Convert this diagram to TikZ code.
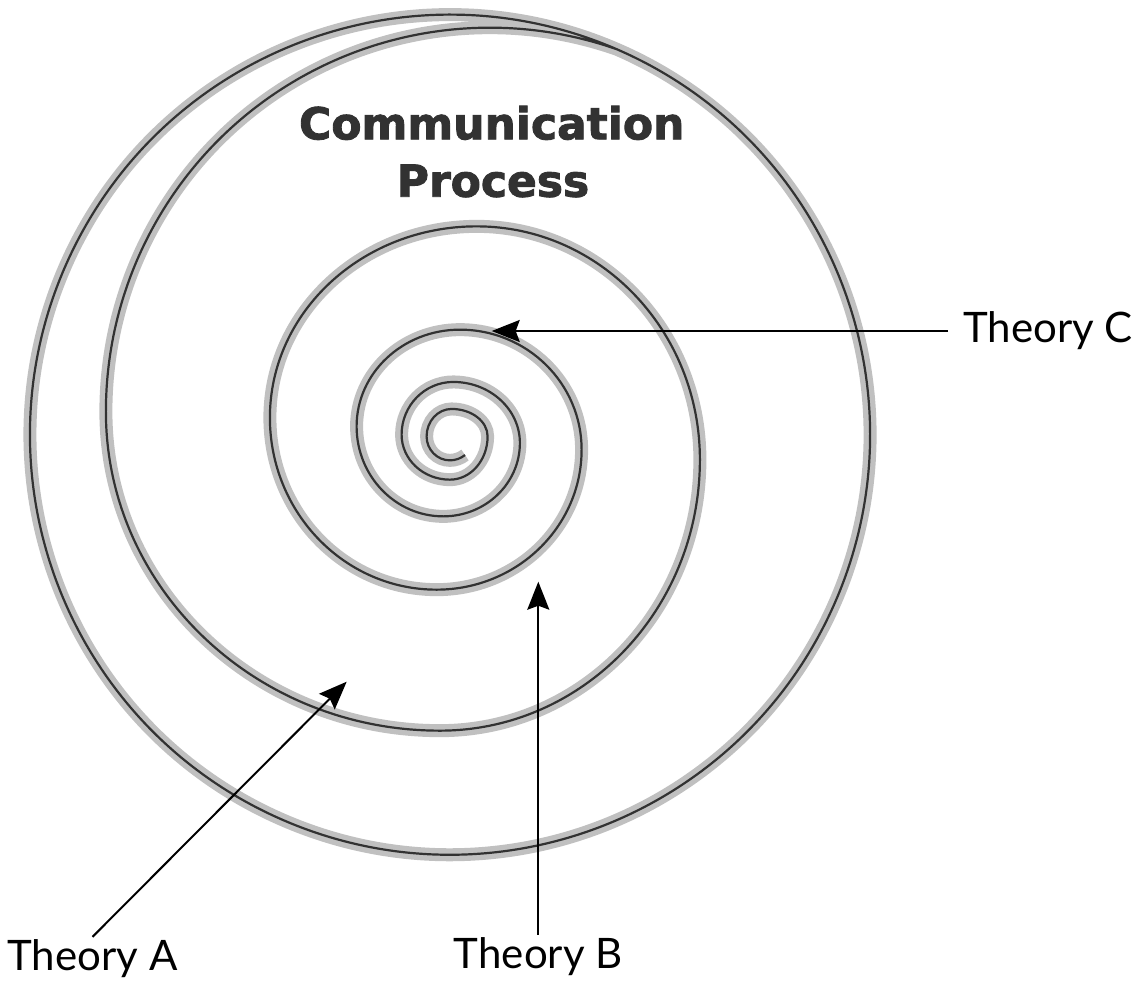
\documentclass[tikz,border=0pt]{standalone}
\usepackage{fontspec}
\setmainfont{Lato}
\newfontfamily\titlefont[BoldFeatures={FakeBold=2}]{DejaVu Sans}
\usetikzlibrary{arrows.meta}
\definecolor{band}{RGB}{192,192,192}
\definecolor{core}{RGB}{50,50,50}
\definecolor{titlecol}{RGB}{50,50,50}
\begin{document}
\begin{tikzpicture}[x=1pt,y=1pt,
  spiral/.style={line width=2.2pt, draw=core, preaction={draw=band, line width=13pt}},
  arr/.style={-{Stealth[length=28pt,width=22pt,inset=4pt]}, line width=2pt, draw=black},
  lab/.style={font=\fontsize{42}{50}\selectfont, inner sep=2pt},
  ttl/.style={font=\titlefont\bfseries\fontsize{44}{52}\selectfont, text=titlecol, inner sep=0pt}]
\useasboundingbox (0,0) rectangle (1134,-980);
% spiral, from the centre outwards
\draw[spiral] (465,-455)
  arc[start angle=-51, end angle=-90, radius=24pt]
  arc[start angle=-90, end angle=-180, x radius=23.3pt, y radius=24pt]
  arc[start angle=180, end angle=90, x radius=25pt, y radius=27.4pt]
  arc[start angle=90, end angle=0, x radius=36pt, y radius=27.4pt]
  arc[start angle=0, end angle=-90, x radius=37.7pt, y radius=43.3pt]
  arc[start angle=-90, end angle=-180, x radius=48.3pt, y radius=45pt]
  arc[start angle=180, end angle=90, x radius=51.6pt, y radius=52.7pt]
  arc[start angle=90, end angle=0, x radius=66.7pt, y radius=61pt]
  arc[start angle=0, end angle=-90, x radius=76.7pt, y radius=73.4pt]
  arc[start angle=-90, end angle=-180, x radius=86.6pt, y radius=90pt]
  arc[start angle=180, end angle=90, x radius=103.3pt, y radius=96.7pt]
  arc[start angle=90, end angle=0, x radius=121.7pt, y radius=120pt]
  arc[start angle=0, end angle=-90, x radius=145pt, y radius=140pt]
  arc[start angle=-90, end angle=-180, x radius=166.7pt, y radius=172pt]
  arc[start angle=180, end angle=90, x radius=206.7pt, y radius=191.3pt]
  arc[start angle=90, end angle=0, x radius=223.3pt, y radius=233.3pt]
  arc[start angle=0, end angle=-90, x radius=260pt, y radius=271pt]
  arc[start angle=-90, end angle=-180, x radius=334pt, y radius=319pt]
  arc[start angle=180, end angle=70.7, radius=384pt]
  arc[start angle=66.6, end angle=-293.4, radius=420pt];
% title
\node[ttl, anchor=base] (title1) at (491.7,-139.3) {Communication};
\node[ttl, anchor=base] (title2) at (493,-196.7) {Process};
% labels
\node[lab, anchor=base] (labA) at (92.5,-970) {Theory A};
\node[lab, anchor=base] (labB) at (538.3,-968) {Theory B};
\node[lab, anchor=west, inner xsep=15pt] (labC) at (948,-331) {Theory C};
\coordinate (tipA) at (346.7,-681.7);
\coordinate (tipB) at (538.3,-581.7);
\coordinate (tipC) at (491.7,-331);
\draw[arr] (labA.north) -- (tipA);
\draw[arr] (labB.north) -- (tipB);
\draw[arr] (labC.west) -- (tipC);
\end{tikzpicture}
\end{document}
